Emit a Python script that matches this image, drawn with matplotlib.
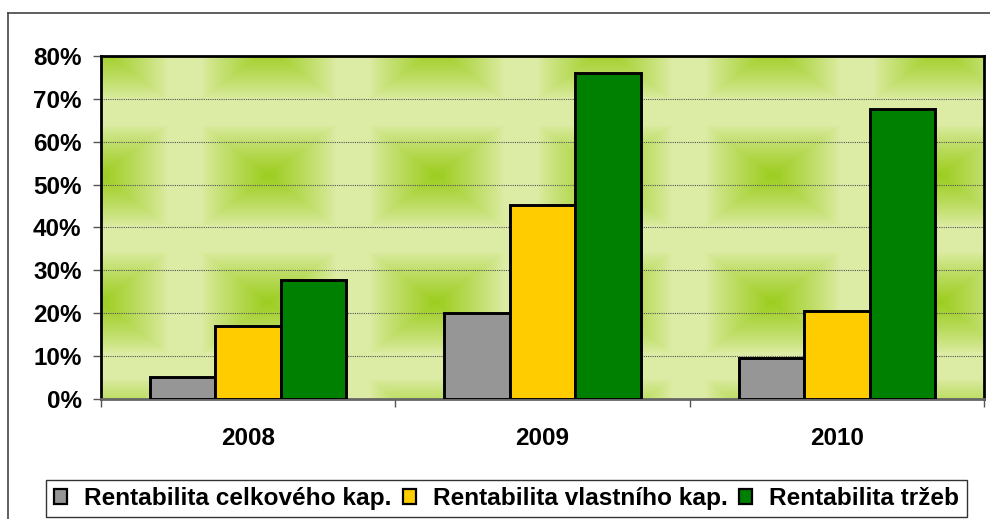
import numpy as np
import matplotlib.pyplot as plt
from matplotlib.patches import Rectangle
from matplotlib.lines import Line2D

# data
years = ['2008', '2009', '2010']
celk_kap = [5.2, 20.0, 9.5]
vlast_kap = [17.1, 45.2, 20.5]
trzeb = [27.7, 76.0, 67.6]
series_names = ['Rentabilita celkového kap.', 'Rentabilita vlastního kap.', 'Rentabilita tržeb']
series_colors = ['#969696', '#FFCC00', '#008000']

plt.rcParams['font.family'] = ['Liberation Sans', 'DejaVu Sans']
plt.rcParams['font.weight'] = 'bold'

fig = plt.figure(figsize=(9.9, 5.19), dpi=100)
ax = fig.add_axes([101 / 990, 1 - 399 / 519, 883 / 990, 343 / 519])

# green tiled background (Excel style gradient)
h, w = 343, 883
yy, xx = np.mgrid[0:h, 0:w]
sx, sy = 168.0, 127.0
dx = (xx + 1) % sx
dx = np.minimum(dx, sx - dx) / (sx / 2)
dy = (yy + 56 - 48) % sy
dy = np.minimum(dy, sy - dy) / (sy / 2)
t = np.maximum(dx, dy)
k = np.clip(1 - t / 0.8, 0, 1) ** 0.85
light = np.array([221, 236, 165]) / 255
green = np.array([156, 205, 30]) / 255
img = light[None, None, :] + (green - light)[None, None, :] * k[..., None]
ax.imshow(img, extent=(-0.5, 2.5, 0, 80), aspect='auto', zorder=0, interpolation='bilinear')

x = np.arange(len(years))
bw = 0.222
for i, (vals, col) in enumerate(zip([celk_kap, vlast_kap, trzeb], series_colors)):
    ax.bar(x + (i - 1) * bw, vals, bw, color=col, edgecolor='black', linewidth=2.1, zorder=3)

ax.set_xlim(-0.5, 2.5)
ax.set_ylim(0, 80)
ax.set_yticks(range(0, 81, 10))
ax.set_yticklabels([f'{v}%' for v in range(0, 81, 10)], fontsize=17.5, fontweight='bold')
ax.yaxis.grid(True, linestyle=(0, (1, 1)), color='#555555', linewidth=0.8, zorder=1)
ax.set_axisbelow(True)

ax.set_xticks(x)
ax.set_xticklabels(years, fontsize=17.5, fontweight='bold')
ax.tick_params(axis='x', length=0, pad=20)
ax.set_xticks([-0.5, 0.5, 1.5, 2.5], minor=True)
ax.tick_params(axis='x', which='minor', length=6, width=1, color='#555555', direction='out')
ax.tick_params(axis='y', length=6, width=1, color='#555555', pad=8)

for s in ['left', 'top', 'right']:
    ax.spines[s].set_color('black')
    ax.spines[s].set_linewidth(2.0)
ax.spines['bottom'].set_color('#666666')
ax.spines['bottom'].set_linewidth(2.0)

# outer chart border (partly cut off)
fig.add_artist(Line2D([8 / 990, 1], [1 - 13 / 519, 1 - 13 / 519], color='#444444', lw=1.2))
fig.add_artist(Line2D([8 / 990, 8 / 990], [0, 1 - 13 / 519], color='#444444', lw=1.2))

handles = [Rectangle((0, 0), 1, 1, facecolor=c, edgecolor='black', linewidth=1.6) for c in series_colors]
leg = fig.legend(handles, series_names, loc='center', bbox_to_anchor=(506.5 / 990, 1 - 498.5 / 519),
                 ncol=3, frameon=True, fancybox=False, handlelength=0.55, handleheight=0.55,
                 handletextpad=0.7, columnspacing=0.45, borderpad=0.3, borderaxespad=0,
                 prop={'weight': 'bold', 'size': 17.6})
leg.get_frame().set_edgecolor('black')
leg.get_frame().set_linewidth(1.0)

fig.savefig('out.png', dpi=100)
